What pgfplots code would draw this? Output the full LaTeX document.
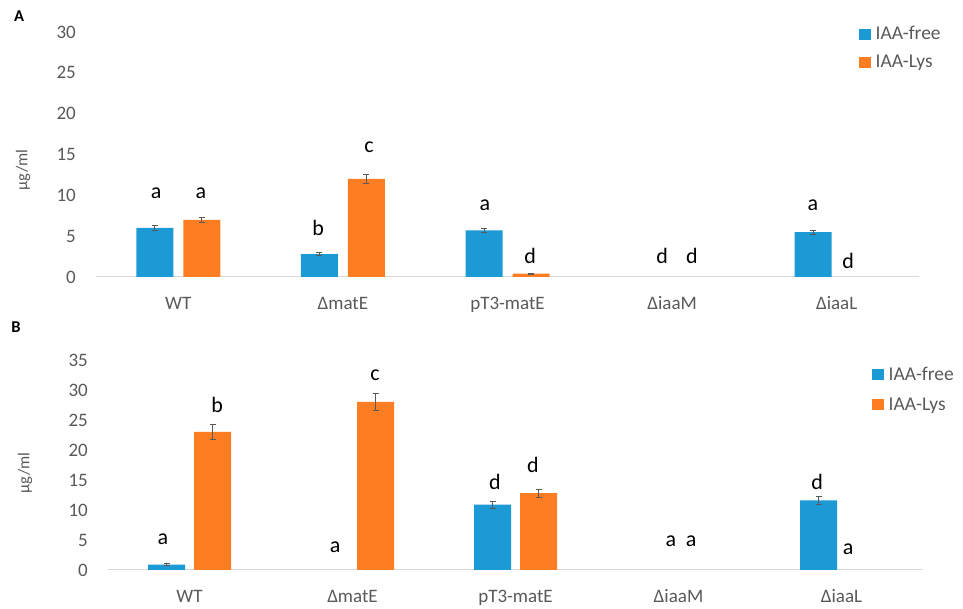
\documentclass[border=0pt]{standalone}
\usepackage{fontspec}
\setmainfont{Carlito}
\usepackage{pgfplots}
\pgfplotsset{compat=1.18}
\definecolor{cblue}{RGB}{27,154,214}
\definecolor{corange}{RGB}{253,125,35}
\definecolor{tgray}{RGB}{89,89,89}
\definecolor{agray}{RGB}{217,217,217}
\tikzset{lett/.style={font=\fontsize{22}{24}\selectfont, anchor=base, inner sep=0pt}}
\pgfplotsset{
  mybars/.style={
    scale only axis,
    xmin=-0.5, xmax=4.5,
    xtick={0,1,2,3,4},
    xticklabels={WT,ΔmatE,pT3-matE,ΔiaaM,ΔiaaL},
    major tick length=0pt,
    axis lines*=left,
    y axis line style={draw=none},
    x axis line style={draw=agray, line width=1pt, -},
    /pgf/number format/assume math mode=true,
    tick label style={font=\fontsize{19}{22}\selectfont, text=tgray},
    yticklabel style={anchor=east, inner sep=0pt, xshift=-20pt},
    xticklabel style={anchor=base, inner sep=0pt, yshift=-33pt},
    ylabel style={font=\fontsize{16.5}{19}\selectfont, text=tgray, rotate=0},
    ylabel={µg/ml},
    legend style={draw=none, fill=none, font=\fontsize{19.5}{22}\selectfont, text=tgray,
      anchor=north west, inner sep=0pt, column sep=4pt,
      nodes={inner sep=1pt}},
    legend cell align=left,
    legend image code/.code={\fill[##1,draw=none] (0pt,-5.5pt) rectangle (11.5pt,5.5pt);},
    error bars/y dir=both,
    error bars/y explicit,
    error bars/error mark options={tgray, rotate=90, mark size=3pt, line width=0.8pt},
    clip=false,
  },
  lftbar/.style={ybar, bar width=37pt, bar shift=-#1, fill=cblue, draw=none,
    error bars/error bar style={tgray, line width=0.8pt, xshift=-#1}},
  rgtbar/.style={ybar, bar width=37pt, bar shift=#1, fill=corange, draw=none,
    error bars/error bar style={tgray, line width=0.8pt, xshift=#1}},
  zerobar/.style={ybar, bar width=37pt, bar shift=#1, draw=none, fill=none, forget plot},
}
\begin{document}
\begin{tikzpicture}
\useasboundingbox (0pt,0pt) rectangle (963pt,609pt);
\node[font=\bfseries\fontsize{16.5}{19}\selectfont, anchor=center] at (19pt,593pt) {A};
\node[font=\bfseries\fontsize{16.5}{19}\selectfont, anchor=center] at (16pt,282pt) {B};
% Panel A
\begin{axis}[mybars,
  at={(96pt,332pt)}, anchor=south west,
  width=823pt, height=245pt,
  ymin=0, ymax=30, ytick={0,5,...,30},
  ylabel style={at={(axis description cs:-0.0887,0.437)}, anchor=center},
  legend style={at={(axis description cs:0.927,1.027)}, row sep=12pt},
]
% IAA-free (blue)
\addplot[lftbar=23.5pt]
  coordinates {(0,6.0) +- (0,0.33) (1,2.8) +- (0,0.15) (2,5.7) +- (0,0.3) (4,5.5) +- (0,0.25)};
\addlegendentry{IAA-free}
% IAA-Lys (orange)
\addplot[rgtbar=23.5pt]
  coordinates {(0,7.0) +- (0,0.35) (1,12.0) +- (0,0.6) (2,0.4) +- (0,0.05)};
\addlegendentry{IAA-Lys}
% zero values
\addplot[zerobar=-23.5pt] coordinates {(3,0)};
\addplot[zerobar=23.5pt] coordinates {(3,0) (4,0)};
\node[lett] at (axis cs:-0.135,9.6) {a};
\node[lett] at (axis cs:0.138,9.6) {a};
\node[lett] at (axis cs:0.849,5.1) {b};
\node[lett] at (axis cs:1.159,15.3) {c};
\node[lett] at (axis cs:1.863,8.2) {a};
\node[lett] at (axis cs:2.137,1.6) {d};
\node[lett] at (axis cs:2.939,1.6) {d};
\node[lett] at (axis cs:3.121,1.6) {d};
\node[lett] at (axis cs:3.856,8.2) {a};
\node[lett] at (axis cs:4.069,1.0) {d};
\end{axis}
% Panel B
\begin{axis}[mybars,
  at={(108pt,39pt)}, anchor=south west,
  width=815pt, height=210pt,
  ymin=0, ymax=35, ytick={0,5,...,35},
  ylabel style={at={(axis description cs:-0.1018,0.462)}, anchor=center},
  legend style={at={(axis description cs:0.9374,0.972)}, row sep=14pt},
]
\addplot[lftbar=23pt]
  coordinates {(0,0.9) +- (0,0.15) (2,10.9) +- (0,0.6) (4,11.6) +- (0,0.65)};
\addlegendentry{IAA-free}
\addplot[rgtbar=23pt]
  coordinates {(0,23.0) +- (0,1.2) (1,28.0) +- (0,1.45) (2,12.8) +- (0,0.65)};
\addlegendentry{IAA-Lys}
\addplot[zerobar=-23pt] coordinates {(1,0) (3,0)};
\addplot[zerobar=23pt] coordinates {(3,0) (4,0)};
\node[lett] at (axis cs:-0.163,4.3) {a};
\node[lett] at (axis cs:0.169,26.2) {b};
\node[lett] at (axis cs:0.893,2.9) {a};
\node[lett] at (axis cs:1.138,31.5) {c};
\node[lett] at (axis cs:1.874,13.4) {d};
\node[lett] at (axis cs:2.107,16.2) {d};
\node[lett] at (axis cs:2.954,3.9) {a};
\node[lett] at (axis cs:3.077,3.9) {a};
\node[lett] at (axis cs:3.85,13.4) {d};
\node[lett] at (axis cs:4.04,2.5) {a};
\end{axis}
\end{tikzpicture}
\end{document}
